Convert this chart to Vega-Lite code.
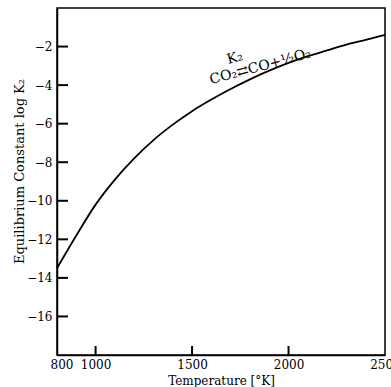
{
  "$schema": "https://vega.github.io/schema/vega-lite/v6.json",
  "width": 328,
  "height": 347,
  "autosize": {"type": "none"},
  "padding": {"left": 57, "top": 8, "right": 6, "bottom": 32},
  "background": "white",
  "config": {
    "view": {"stroke": "black", "strokeWidth": 1.5},
    "font": "DejaVu Serif",
    "axis": {
      "grid": false,
      "ticks": false,
      "tickSize": 0,
      "domainColor": "black",
      "domainWidth": 1.5,
      "labelColor": "black",
      "titleColor": "black",
      "labelFont": "DejaVu Serif",
      "titleFont": "DejaVu Serif",
      "labelFontSize": 12,
      "titleFontSize": 12,
      "titleFontWeight": "normal"
    }
  },
  "datasets": {
    "curve": [
      {"T": 800, "logK": -13.5},
      {"T": 900, "logK": -11.8},
      {"T": 1000, "logK": -10.2},
      {"T": 1100, "logK": -8.9},
      {"T": 1200, "logK": -7.8},
      {"T": 1300, "logK": -6.85},
      {"T": 1400, "logK": -6.05},
      {"T": 1500, "logK": -5.35},
      {"T": 1600, "logK": -4.75},
      {"T": 1700, "logK": -4.2},
      {"T": 1800, "logK": -3.7},
      {"T": 1900, "logK": -3.25},
      {"T": 2000, "logK": -2.85},
      {"T": 2100, "logK": -2.5},
      {"T": 2200, "logK": -2.2},
      {"T": 2300, "logK": -1.9},
      {"T": 2400, "logK": -1.65},
      {"T": 2500, "logK": -1.4}
    ],
    "yticks": [
      {"T": 800, "logK": -16}, {"T": 800, "logK": -14}, {"T": 800, "logK": -12}, {"T": 800, "logK": -10},
      {"T": 800, "logK": -8}, {"T": 800, "logK": -6}, {"T": 800, "logK": -4}, {"T": 800, "logK": -2}
    ],
    "xticks": [
      {"T": 1000, "logK": -18}, {"T": 1500, "logK": -18}, {"T": 2000, "logK": -18}
    ],
    "labels": [
      {"T": 1854, "logK": -3.05, "label": "CO₂⇄CO+½O₂"},
      {"T": 1722, "logK": -2.6, "label": "K₂"}
    ]
  },
  "layer": [
    {
      "data": {"name": "curve"},
      "mark": {"type": "line", "color": "black", "strokeWidth": 1.8, "interpolate": "monotone"},
      "encoding": {
        "x": {
          "field": "T", "type": "quantitative",
          "scale": {"domain": [800, 2500], "nice": false},
          "axis": {
            "values": [800, 1000, 1500, 2000, 2500],
            "format": "d",
            "labelPadding": 4,
            "labelAlign": {"expr": "datum.value == 800 ? 'left' : 'center'"},
            "labelOffset": {"expr": "datum.value == 800 ? -7 : 0"},
            "title": "Temperature [°K]",
            "titlePadding": 5
          }
        },
        "y": {
          "field": "logK", "type": "quantitative",
          "scale": {"domain": [-18, 0], "nice": false},
          "axis": {
            "values": [-16, -14, -12, -10, -8, -6, -4, -2],
            "labelPadding": 5,
            "title": "Equilibrium Constant  log K₂",
            "titleFontSize": 13,
            "titlePadding": 0,
            "titleY": 163
          }
        }
      }
    },
    {
      "data": {"name": "yticks"},
      "mark": {"type": "tick", "orient": "horizontal", "color": "black", "size": 22, "thickness": 2, "opacity": 1, "clip": true},
      "encoding": {
        "x": {"field": "T", "type": "quantitative"},
        "y": {"field": "logK", "type": "quantitative"}
      }
    },
    {
      "data": {"name": "xticks"},
      "mark": {"type": "tick", "orient": "vertical", "color": "black", "size": 18, "thickness": 2, "opacity": 1, "clip": true},
      "encoding": {
        "x": {"field": "T", "type": "quantitative"},
        "y": {"field": "logK", "type": "quantitative"}
      }
    },
    {
      "data": {"name": "labels"},
      "mark": {"type": "text", "angle": 345, "font": "DejaVu Serif", "fontSize": 14, "color": "black"},
      "encoding": {
        "x": {"field": "T", "type": "quantitative"},
        "y": {"field": "logK", "type": "quantitative"},
        "text": {"field": "label"}
      }
    }
  ]
}
